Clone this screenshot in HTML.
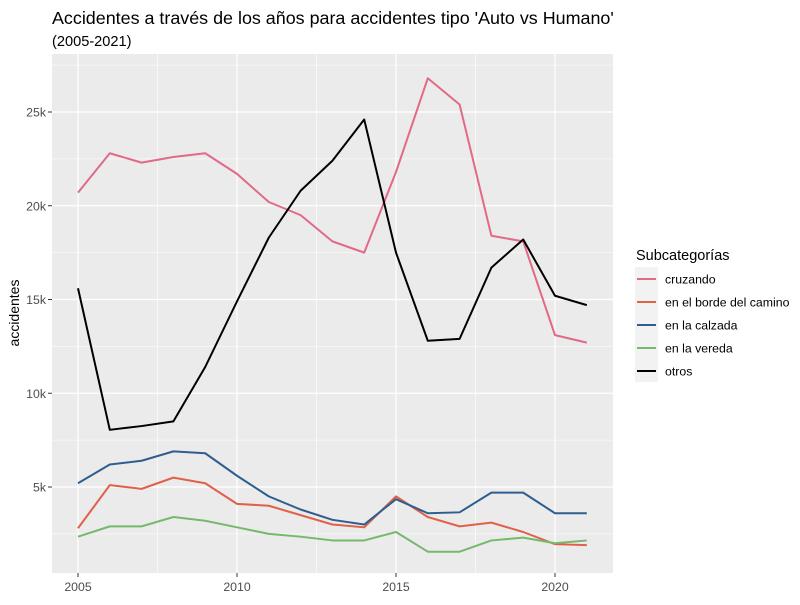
<!DOCTYPE html>
<html><head><meta charset="utf-8"><style>
body{margin:0;background:#fff;font-family:"Liberation Sans",Arial,sans-serif;}
svg text{font-family:"Liberation Sans",Arial,sans-serif;}
</style></head><body>
<svg id="chart" width="800" height="600" xmlns="http://www.w3.org/2000/svg">
<text x="52" y="24" font-size="17.9" fill="#000">Accidentes a través de los años para accidentes tipo 'Auto vs Humano'</text>
<text x="52" y="46" font-size="14.6" fill="#000">(2005-2021)</text>
<rect x="52" y="54" width="561" height="519" fill="#ebebeb"/>
<g id="grid"></g><g id="series"></g><g id="axes"></g>
<text transform="translate(19,313) rotate(-90)" text-anchor="middle" font-size="14" fill="#000">accidentes</text>
<text x="636" y="260" font-size="14.5" fill="#000">Subcategorías</text>
<rect x="635" y="267" width="23" height="115" fill="#f2f2f2"/>
<g id="legend"></g>
</svg>
<script>
const years=[2005,2006,2007,2008,2009,2010,2011,2012,2013,2014,2015,2016,2017,2018,2019,2020,2021];
const cruzando=[20.7,22.8,22.3,22.6,22.8,21.7,20.2,19.5,18.1,17.5,21.8,26.8,25.4,18.4,18.1,13.1,12.7];
const borde=[2.8,5.1,4.9,5.5,5.2,4.1,4.0,3.5,3.0,2.85,4.5,3.4,2.9,3.1,2.6,1.95,1.9];
const calzada=[5.2,6.2,6.4,6.9,6.8,5.6,4.5,3.8,3.25,3.0,4.35,3.6,3.65,4.7,4.7,3.6,3.6];
const vereda=[2.35,2.9,2.9,3.4,3.2,2.85,2.5,2.35,2.15,2.15,2.6,1.55,1.55,2.15,2.3,2.0,2.15];
const otros=[15.6,8.05,8.25,8.5,11.4,14.9,18.3,20.8,22.4,24.6,17.5,12.8,12.9,16.7,18.2,15.2,14.7];
const seriesNames=["cruzando","en el borde del camino","en la calzada","en la vereda","otros"];
const seriesData=[cruzando,borde,calzada,vereda,otros];
const colors=["#e16a86","#e0604a","#2e5e8e","#74ba6a","#000000"];
const xTicks=[2005,2010,2015,2020];
const yTicks=[5,10,15,20,25];
const yTickLabels=["5k","10k","15k","20k","25k"];
const X=y=>78+(y-2005)*31.8;
const Y=v=>580.75-v*18.75;
const NS="http://www.w3.org/2000/svg";
function mk(t,a,p){const e=document.createElementNS(NS,t);for(const k in a)e.setAttribute(k,a[k]);p.appendChild(e);return e;}
const grid=document.getElementById('grid'),axes=document.getElementById('axes'),ser=document.getElementById('series'),leg=document.getElementById('legend');
for(let v=2.5;v<=27.5;v+=5){const l=mk('line',{x1:52,x2:613,y1:Y(v),y2:Y(v),stroke:'#fff','stroke-width':0.6},grid);

}
for(let v=2007.5;v<=2017.5;v+=5){const l=mk('line',{x1:X(v),x2:X(v),y1:54,y2:573,stroke:'#fff','stroke-width':0.6},grid);

}
yTicks.forEach((v,i)=>{const l=mk('line',{x1:52,x2:613,y1:Y(v),y2:Y(v),stroke:'#fff','stroke-width':1.2},grid);


mk('line',{x1:48,x2:52,y1:Y(v),y2:Y(v),stroke:'#333'},axes);
const t=mk('text',{x:46,y:Y(v)+4.5,'text-anchor':'end','font-size':12.3,fill:'#4d4d4d'},axes);t.textContent=yTickLabels[i];

});
xTicks.forEach(v=>{const l=mk('line',{x1:X(v),x2:X(v),y1:54,y2:573,stroke:'#fff','stroke-width':1.2},grid);


mk('line',{x1:X(v),x2:X(v),y1:573,y2:577,stroke:'#333'},axes);
const t=mk('text',{x:X(v),y:591,'text-anchor':'middle','font-size':12.3,fill:'#4d4d4d'},axes);t.textContent=v;

});
seriesData.forEach((d,i)=>{const p=mk('polyline',{points:d.map((v,j)=>X(years[j])+','+Y(v)).join(' '),fill:'none',stroke:colors[i],'stroke-width':2,'stroke-linejoin':'round'},ser);


const ly=279+i*23;
mk('line',{x1:637,x2:656,y1:ly,y2:ly,stroke:colors[i],'stroke-width':2},leg);
const t=mk('text',{x:665,y:ly+4.5,'font-size':12.3,fill:'#000'},leg);t.textContent=seriesNames[i];

});
</script>
</body></html>
